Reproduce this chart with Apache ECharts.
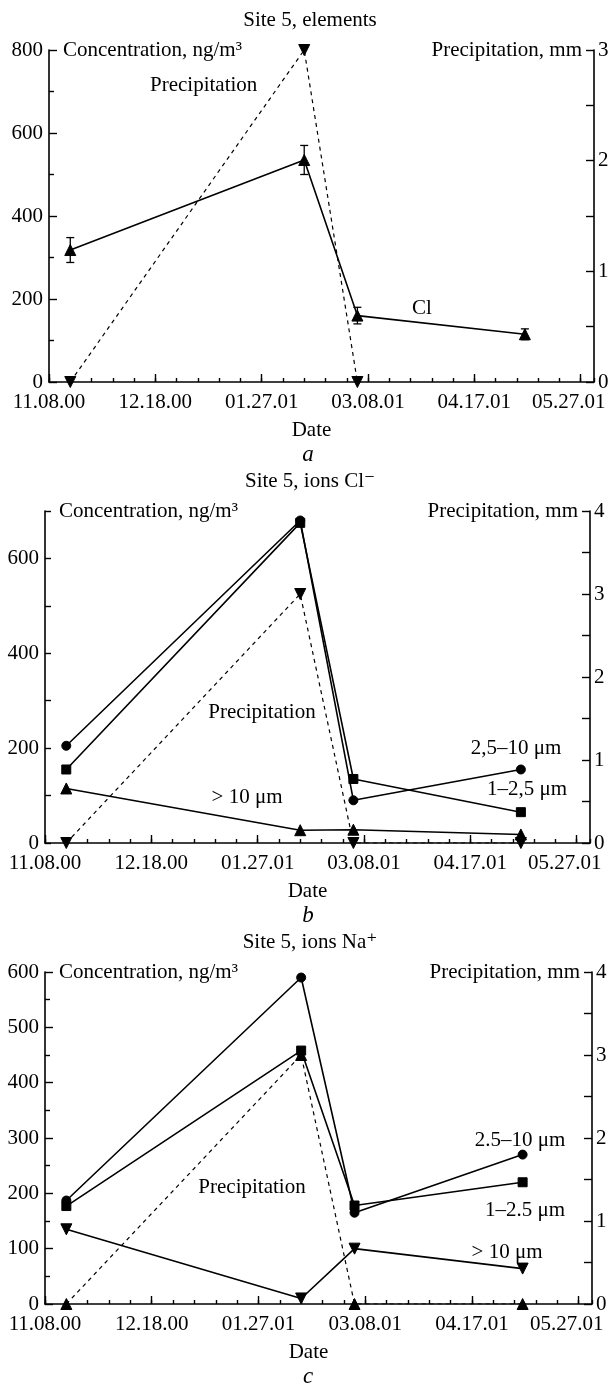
<!DOCTYPE html>
<html>
<head>
<meta charset="utf-8">
<script src="https://cdn.jsdelivr.net/npm/echarts@6/dist/echarts.min.js"></script>
<style>
  html, body { margin: 0; padding: 0; background: #fff; }
  #main { width: 610px; height: 1385px; }
</style>
</head>
<body>
<div id="main"></div>
<script>
// x axis: days after 11.08.00, ticks every 40 days
var tickDays = [0, 40, 80, 120, 160, 200];
var tickLabels = ['11.08.00', '12.18.00', '01.27.01', '03.08.01', '04.17.01', '05.27.01'];
var sampleDays = [8, 96, 116, 179];

// a - Site 5, elements
var clA = [318, 535, 160, 115];
var clErrA = [30, 35, 20, 13];
var precipA = [0, 3, 0];

// b - Site 5, ions Cl-
var coarseB = [205, 680, 90, 155];   // 2,5–10 µm
var fineB = [155, 675, 135, 65];     // 1–2,5 µm
var bigB = [115, 27, 28, 18];        // > 10 µm
var precipB = [0, 3, 0, 0];

// c - Site 5, ions Na+
var coarseC = [187, 590, 165, 270];  // 2.5–10 µm
var fineC = [177, 458, 178, 220];    // 1–2.5 µm
var bigC = [135, 10, 100, 64];       // > 10 µm
var precipC = [0, 3, 0, 0];

var FONT = "'Liberation Serif', 'DejaVu Serif', serif";
var FS = 21;

// panel geometry
var panels = [
  { top: 50,  left: 49, right: 16, leftMax: 800, leftInt: 200, leftMinor: 2, rightMax: 3, title: 'Site 5, elements', tag: 'a' },
  { top: 511, left: 45, right: 20, leftMax: 700, leftInt: 100, leftMinor: 0, rightMax: 4, title: 'Site 5, ions Cl\u207B', tag: 'b' },
  { top: 972, left: 45, right: 18, leftMax: 600, leftInt: 100, leftMinor: 2, rightMax: 4, title: 'Site 5, ions Na\u207A', tag: 'c' }
];
var PH = 332;

function pairs(vals) {
  return vals.map(function (v, i) { return [sampleDays[i], v]; });
}

var grids = [], xAxes = [], yAxes = [], series = [], graphics = [];
var axisLine = { show: true, onZero: false, lineStyle: { color: '#000', width: 1.6 } };

panels.forEach(function (p, g) {
  grids.push({ left: p.left, right: p.right, top: p.top, height: PH, outerBoundsMode: 'none', containLabel: false });

  // minor day ticks (every 8 days)
  xAxes.push({
    type: 'value', gridIndex: g, position: 'bottom', min: 0, max: 205, interval: 8,
    axisLine: axisLine,
    axisTick: { inside: true, length: 4, lineStyle: { color: '#000', width: 1.4 } },
    axisLabel: { show: false }, splitLine: { show: false }
  });
  // major date ticks with labels
  xAxes.push({
    type: 'value', gridIndex: g, position: 'bottom', min: 0, max: 205, interval: 40,
    axisLine: { show: false, onZero: false },
    axisTick: { inside: true, length: 8, lineStyle: { color: '#000', width: 1.4 } },
    splitLine: { show: false },
    axisLabel: {
      margin: 10, color: '#000', fontFamily: FONT, fontSize: FS,
      showMaxLabel: false,
      formatter: function (v) {
        var i = tickDays.indexOf(v);
        if (i < 0) return '';
        if (i === tickDays.length - 1) return '{t|' + tickLabels[i] + '}{s|}';
        return tickLabels[i];
      },
      rich: {
        t: { fontFamily: FONT, fontSize: FS, color: '#000' },
        s: { width: 24 }
      }
    },
    name: 'Date', nameLocation: 'middle', nameGap: 38,
    nameTextStyle: { color: '#000', fontFamily: FONT, fontSize: FS, padding: [0, 20, 0, 0] }
  });

  yAxes.push({
    type: 'value', gridIndex: g, position: 'left', min: 0, max: p.leftMax, interval: p.leftInt,
    axisLine: axisLine,
    axisTick: { inside: true, length: p.leftMinor ? 8 : 6, lineStyle: { color: '#000', width: 1.4 } },
    minorTick: { show: p.leftMinor > 0, splitNumber: p.leftMinor || 2, length: 5, lineStyle: { color: '#000', width: 1.4 } },
    splitLine: { show: false },
    axisLabel: {
      margin: 6, color: '#000', fontFamily: FONT, fontSize: FS,
      formatter: function (v) {
        if (p.tag === 'b') return v % 200 === 0 ? String(v) : '';
        return String(v);
      }
    }
  });
  yAxes.push({
    type: 'value', gridIndex: g, position: 'right', min: 0, max: p.rightMax, interval: 1,
    axisLine: axisLine,
    axisTick: { inside: true, length: 8, lineStyle: { color: '#000', width: 1.4 } },
    minorTick: { show: true, splitNumber: 2, length: 8, lineStyle: { color: '#000', width: 1.4 } },
    splitLine: { show: false },
    axisLabel: { margin: 4, color: '#000', fontFamily: FONT, fontSize: FS }
  });

  // titles and panel letters
  graphics.push({ type: 'text', x: 310, y: p.top - 30,
    style: { text: p.title, font: FS + 'px ' + FONT, fill: '#000', align: 'center', verticalAlign: 'middle', textAlign: 'center', textVerticalAlign: 'middle' } });
  graphics.push({ type: 'text', x: 308, y: p.top + PH + 73,
    style: { text: p.tag, font: 'italic 23px ' + FONT, fill: '#000', align: 'center', verticalAlign: 'middle', textAlign: 'center', textVerticalAlign: 'middle' } });
  graphics.push({ type: 'text', x: p.left + 14, y: p.top,
    style: { text: 'Concentration, ng/m\u00B3', font: FS + 'px ' + FONT, fill: '#000', align: 'left', verticalAlign: 'middle', textAlign: 'left', textVerticalAlign: 'middle' } });
  graphics.push({ type: 'text', x: 610 - p.right - 12, y: p.top,
    style: { text: 'Precipitation, mm', font: FS + 'px ' + FONT, fill: '#000', align: 'right', verticalAlign: 'middle', textAlign: 'right', textVerticalAlign: 'middle' } });
});

function note(text, x, y, align) {
  graphics.push({ type: 'text', x: x, y: y,
    style: { text: text, font: FS + 'px ' + FONT, fill: '#000', align: align || 'center', verticalAlign: 'middle', textAlign: align || 'center', textVerticalAlign: 'middle' } });
}
// panel a notes
note('Precipitation', 150, 85, 'left');
note('Cl', 422, 308);
// panel b notes
note('Precipitation', 262, 712);
note('2,5\u201310 \u03BCm', 516, 748);
note('1\u20132,5 \u03BCm', 527, 789);
note('> 10 \u03BCm', 247, 797);
// panel c notes
note('Precipitation', 252, 1187);
note('2.5\u201310 \u03BCm', 520, 1140);
note('1\u20132.5 \u03BCm', 525, 1210);
note('> 10 \u03BCm', 507, 1252);

var solid = { color: '#000', width: 1.6 };
var dashed = { color: '#000', width: 1.2, type: [4, 4] };
function lineSeries(g, yIdx, vals, symbol, size, rotate, style) {
  return {
    type: 'line', xAxisIndex: 2 * g + 1, yAxisIndex: 2 * g + yIdx,
    data: pairs(vals), symbol: symbol, symbolSize: size, symbolRotate: rotate || 0,
    showAllSymbol: true, animation: false,
    lineStyle: style, itemStyle: { color: '#000', borderColor: '#000' }
  };
}

// panel a
series.push(lineSeries(0, 1, precipA, 'triangle', 11, 180, dashed));
series.push(lineSeries(0, 0, clA, 'triangle', 11, 0, solid));
series.push({
  type: 'custom', xAxisIndex: 1, yAxisIndex: 0, animation: false,
  data: sampleDays.map(function (d, i) { return [d, clA[i] - clErrA[i], clA[i] + clErrA[i]]; }),
  renderItem: function (params, api) {
    var lo = api.coord([api.value(0), api.value(1)]);
    var hi = api.coord([api.value(0), api.value(2)]);
    var w = 4, st = { stroke: '#000', lineWidth: 1.3 };
    return { type: 'group', children: [
      { type: 'line', shape: { x1: lo[0], y1: lo[1], x2: hi[0], y2: hi[1] }, style: st },
      { type: 'line', shape: { x1: lo[0] - w, y1: lo[1], x2: lo[0] + w, y2: lo[1] }, style: st },
      { type: 'line', shape: { x1: hi[0] - w, y1: hi[1], x2: hi[0] + w, y2: hi[1] }, style: st }
    ] };
  }
});

// panel b
series.push(lineSeries(1, 1, precipB, 'triangle', 11, 180, dashed));
series.push(lineSeries(1, 0, coarseB, 'circle', 9, 0, solid));
series.push(lineSeries(1, 0, fineB, 'rect', 9, 0, solid));
series.push(lineSeries(1, 0, bigB, 'triangle', 11, 0, solid));

// panel c
series.push(lineSeries(2, 1, precipC, 'triangle', 11, 0, dashed));
series.push(lineSeries(2, 0, coarseC, 'circle', 9, 0, solid));
series.push(lineSeries(2, 0, fineC, 'rect', 9, 0, solid));
series.push(lineSeries(2, 0, bigC, 'triangle', 11, 180, solid));

var chart = echarts.init(document.getElementById('main'), null, { renderer: 'canvas' });
chart.setOption({
  backgroundColor: '#fff',
  animation: false,
  grid: grids,
  xAxis: xAxes,
  yAxis: yAxes,
  series: series,
  graphic: graphics
});
</script>
</body>
</html>
